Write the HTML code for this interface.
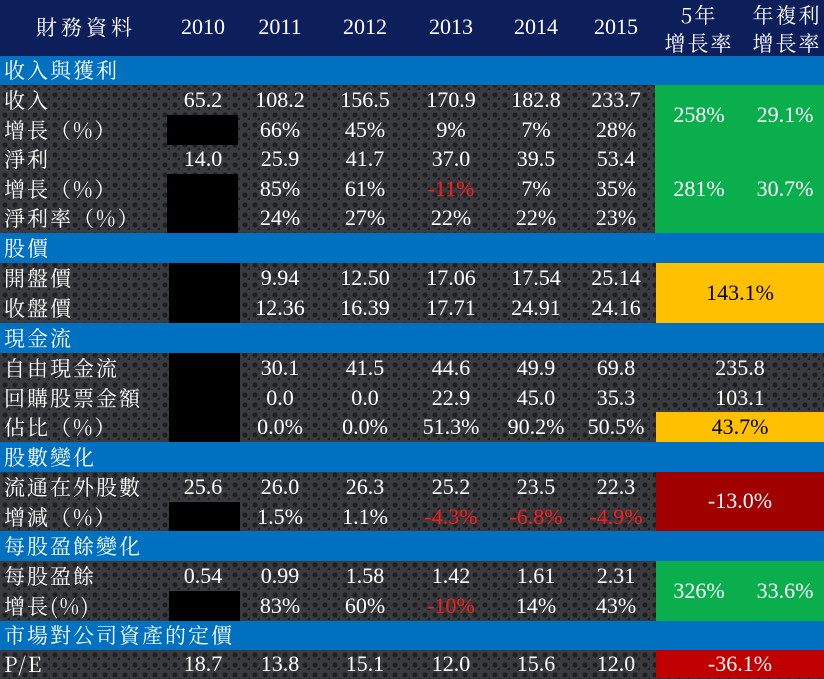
<!DOCTYPE html>
<html><head><meta charset="utf-8">
<style>
body{margin:0;width:824px;height:678px;overflow:hidden;position:relative;
background-color:#3a3b3f;
background-image:radial-gradient(circle at 5px 5px,#1e1f22 2.3px,transparent 2.8px),radial-gradient(circle at 10px 10px,#1e1f22 2.3px,transparent 2.8px);
background-size:10px 10px;
font-family:"Liberation Serif","Noto Serif CJK SC","Noto Sans CJK TC",serif;color:#fff;}
.a{position:absolute;}
.t{position:absolute;font-size:22px;line-height:30px;white-space:nowrap;}
.c{transform:translateX(-50%);}
.red{color:#ff1a1a;}
.hdr{background:#0c1f5b;left:0;top:0;width:824px;height:56px;}
.sec{background:#0070c0;left:0;width:824px;}
.blk{background:#000;}
.lbl{left:4px;font-family:"Noto Serif CJK SC","WenQuanYi Zen Hei",serif;letter-spacing:2px;font-size:21px;}
</style></head><body>
<div class="a hdr"></div>
<div class="t lbl" style="left:36px;top:12px;letter-spacing:4px">財務資料</div>
<div class="t c" style="left:203px;top:12px">2010</div>
<div class="t c" style="left:280px;top:12px">2011</div>
<div class="t c" style="left:365px;top:12px">2012</div>
<div class="t c" style="left:451px;top:12px">2013</div>
<div class="t c" style="left:536px;top:12px">2014</div>
<div class="t c" style="left:616px;top:12px">2015</div>
<div class="t c" style="left:699px;top:1px;line-height:28px;text-align:center;font-family:'Noto Serif CJK SC',serif;font-size:21px;letter-spacing:2px">5年<br>增長率</div>
<div class="t c" style="left:787px;top:1px;line-height:28px;text-align:center;font-family:'Noto Serif CJK SC',serif;font-size:21px;letter-spacing:2px">年複利<br>增長率</div>

<div class="a sec" style="top:56px;height:29px"></div>
<div class="a sec" style="top:233px;height:30px"></div>
<div class="a sec" style="top:323px;height:30px"></div>
<div class="a sec" style="top:442px;height:30px"></div>
<div class="a sec" style="top:531px;height:30px"></div>
<div class="a sec" style="top:621px;height:29px"></div>

<div class="t lbl" style="top:55px">收入與獲利</div>
<div class="t lbl" style="top:233px">股價</div>
<div class="t lbl" style="top:323px">現金流</div>
<div class="t lbl" style="top:442px">股數變化</div>
<div class="t lbl" style="top:531px">每股盈餘變化</div>
<div class="t lbl" style="top:620px">市場對公司資產的定價</div>

<div class="a" style="background:#0bae4c;left:655px;top:85px;width:169px;height:148px"></div>
<div class="a" style="background:#ffc000;left:656px;top:263px;width:168px;height:60px"></div>
<div class="a" style="background:#ffc000;left:656px;top:412px;width:168px;height:30px"></div>
<div class="a" style="background:#a00000;left:656px;top:472px;width:168px;height:59px"></div>
<div class="a" style="background:#0bae4c;left:656px;top:561px;width:168px;height:60px"></div>
<div class="a" style="background:#c00000;left:656px;top:650px;width:168px;height:28px"></div>

<div class="a blk" style="left:167px;top:115px;width:71px;height:30px"></div>
<div class="a blk" style="left:167px;top:174px;width:71px;height:59px"></div>
<div class="a blk" style="left:169px;top:263px;width:71px;height:60px"></div>
<div class="a blk" style="left:169px;top:353px;width:71px;height:89px"></div>
<div class="a blk" style="left:169px;top:502px;width:71px;height:29px"></div>
<div class="a blk" style="left:169px;top:591px;width:71px;height:30px"></div>

<div id="rows"></div>
<script>
const rowLabels=["收入","增長（%）","淨利","增長（%）","淨利率（%）","開盤價","收盤價","自由現金流","回購股票金額","佔比（%）","流通在外股數","增減（%）","每股盈餘","增長(%)","P/E"];
const rowTops=[85,115,144,174,203,263,293,353,383,412,472,502,561,591,649];
const rowValues=[
["65.2","108.2","156.5","170.9","182.8","233.7"],
["","66%","45%","9%","7%","28%"],
["14.0","25.9","41.7","37.0","39.5","53.4"],
["","85%","61%","-11%","7%","35%"],
["","24%","27%","22%","22%","23%"],
["","9.94","12.50","17.06","17.54","25.14"],
["","12.36","16.39","17.71","24.91","24.16"],
["","30.1","41.5","44.6","49.9","69.8"],
["","0.0","0.0","22.9","45.0","35.3"],
["","0.0%","0.0%","51.3%","90.2%","50.5%"],
["25.6","26.0","26.3","25.2","23.5","22.3"],
["","1.5%","1.1%","-4.3%","-6.8%","-4.9%"],
["0.54","0.99","1.58","1.42","1.61","2.31"],
["","83%","60%","-10%","14%","43%"],
["18.7","13.8","15.1","12.0","15.6","12.0"]];
const colCenters=[203,280,365,451,536,616];
const summaryTexts=["258%","29.1%","281%","30.7%","143.1%","235.8","103.1","43.7%","-13.0%","326%","33.6%","-36.1%"];
const summaryPos=[[699,100],[785,100],[699,174],[785,174],[740,278],[740,353],[740,383],[740,412],[740,486],[699,576],[785,576],[740,649]];
const summaryDark=[false,false,false,false,true,false,false,true,false,false,false,false];
const root=document.getElementById('rows');
rowLabels.forEach((lb,i)=>{
  const d=document.createElement('div');
  d.className='t lbl';d.style.top=rowTops[i]+'px';d.textContent=lb;
  
  
  root.appendChild(d);
  rowValues[i].forEach((v,j)=>{
    if(!v)return;
    const e=document.createElement('div');
    e.className='t c'+(v.startsWith('-')?' red':'');
    e.style.left=colCenters[j]+'px';e.style.top=rowTops[i]+'px';e.textContent=v;
    
    
    root.appendChild(e);
  });
});
summaryTexts.forEach((s,k)=>{
  const e=document.createElement('div');
  e.className='t c';
  e.style.left=summaryPos[k][0]+'px';e.style.top=summaryPos[k][1]+'px';
  if(summaryDark[k])e.style.color='#000';
  e.textContent=s;
  
  
  root.appendChild(e);
});
</script>
</body></html>
